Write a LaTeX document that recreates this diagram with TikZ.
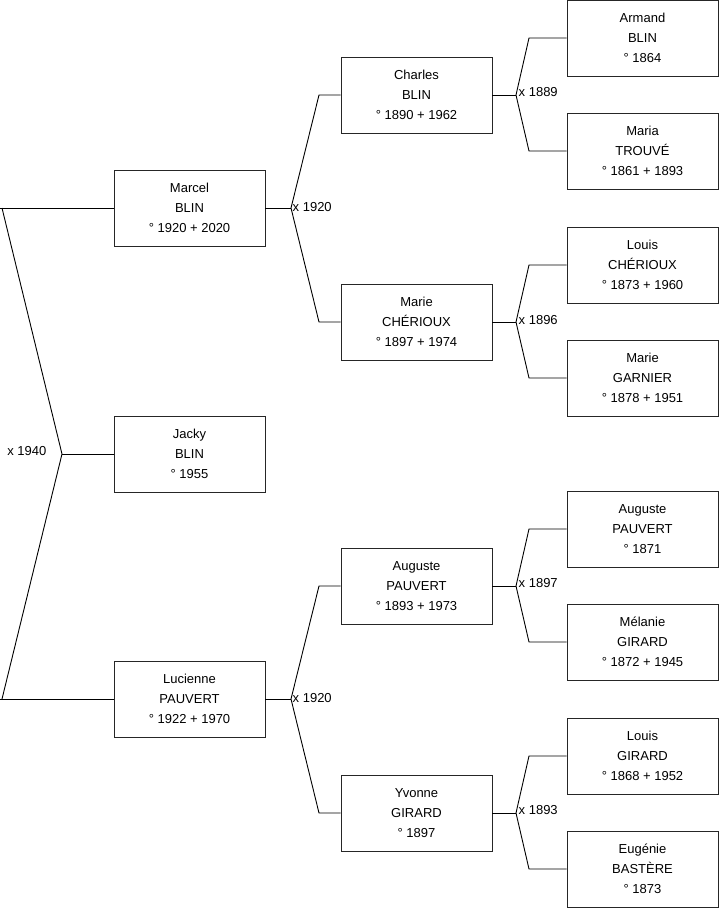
\documentclass[tikz,border=0pt]{standalone}
\usepackage{fontspec}
\setmainfont{Liberation Sans}
\begin{document}
\begin{tikzpicture}[x=1pt,y=-1pt,
  person/.style={draw=black!85,line width=0.9pt,rectangle,minimum width=151pt,minimum height=76pt,
    inner sep=0pt,align=center,font=\fontsize{13}{20}\selectfont},
  link/.style={draw=black,line width=0.9pt},
  marr/.style={font=\fontsize{13}{15}\selectfont,inner sep=1.5pt}]
\useasboundingbox (0,0) rectangle (719,908);
% column 1
\node[person] (marcel) at (189.5,208) {Marcel\\BLIN\\° 1920 + 2020};
\node[person] (jacky) at (189.5,454) {Jacky\\BLIN\\° 1955};
\node[person] (lucienne) at (189.5,699) {Lucienne\\PAUVERT\\° 1922 + 1970};
% column 2
\node[person] (charles) at (416.5,95) {Charles\\BLIN\\° 1890 + 1962};
\node[person] (marieC) at (416.5,322) {Marie\\CHÉRIOUX\\° 1897 + 1974};
\node[person] (augusteP) at (416.5,586) {Auguste\\PAUVERT\\° 1893 + 1973};
\node[person] (yvonne) at (416.5,813) {Yvonne\\GIRARD\\° 1897};
% column 3
\node[person] (armand) at (642.5,38) {Armand\\BLIN\\° 1864};
\node[person] (maria) at (642.5,151) {Maria\\TROUVÉ\\° 1861 + 1893};
\node[person] (louisC) at (642.5,265) {Louis\\CHÉRIOUX\\° 1873 + 1960};
\node[person] (marieG) at (642.5,378) {Marie\\GARNIER\\° 1878 + 1951};
\node[person] (augusteP2) at (642.5,529) {Auguste\\PAUVERT\\° 1871};
\node[person] (melanie) at (642.5,642) {Mélanie\\GIRARD\\° 1872 + 1945};
\node[person] (louisG) at (642.5,756) {Louis\\GIRARD\\° 1868 + 1952};
\node[person] (eugenie) at (642.5,869) {Eugénie\\BASTÈRE\\° 1873};

% fork for Jacky
\coordinate (j0) at (62,454);
\coordinate (j0a) at (2,208);
\coordinate (j0b) at (2,699);
\coordinate (j0s) at (0,208);
\coordinate (j0t) at (0,699);
\draw[link] (jacky.west) -- (j0);
\draw[link] (j0a) -- (j0) -- (j0b);
\draw[link] (j0s) -- (marcel.west);
\draw[link] (j0t) -- (lucienne.west);
\node[marr,anchor=east] (m0) at (48,451) {x 1940};

% forks column 1 -> 2
\coordinate (j1) at (291,208);
\coordinate (j1a) at (319,95);
\coordinate (j1b) at (319,322);
\draw[link] (marcel.east) -- (j1);
\draw[link] (charles.west) -- (j1a) -- (j1) -- (j1b) -- (marieC.west);
\node[marr,anchor=west] (m1) at (291,207) {x 1920};

\coordinate (j2) at (291,699);
\coordinate (j2a) at (319,586);
\coordinate (j2b) at (319,813);
\draw[link] (lucienne.east) -- (j2);
\draw[link] (augusteP.west) -- (j2a) -- (j2) -- (j2b) -- (yvonne.west);
\node[marr,anchor=west] (m2) at (291,698) {x 1920};

% forks column 2 -> 3
\coordinate (j3) at (516,95);
\coordinate (j3a) at (529,38);
\coordinate (j3b) at (529,151);
\draw[link] (charles.east) -- (j3);
\draw[link] (armand.west) -- (j3a) -- (j3) -- (j3b) -- (maria.west);
\node[marr,anchor=west] (m3) at (517,92) {x 1889};

\coordinate (j4) at (516,322);
\coordinate (j4a) at (529,265);
\coordinate (j4b) at (529,378);
\draw[link] (marieC.east) -- (j4);
\draw[link] (louisC.west) -- (j4a) -- (j4) -- (j4b) -- (marieG.west);
\node[marr,anchor=west] (m4) at (517,320) {x 1896};

\coordinate (j5) at (516,586);
\coordinate (j5a) at (529,529);
\coordinate (j5b) at (529,642);
\draw[link] (augusteP.east) -- (j5);
\draw[link] (augusteP2.west) -- (j5a) -- (j5) -- (j5b) -- (melanie.west);
\node[marr,anchor=west] (m5) at (517,583) {x 1897};

\coordinate (j6) at (516,813);
\coordinate (j6a) at (529,756);
\coordinate (j6b) at (529,869);
\draw[link] (yvonne.east) -- (j6);
\draw[link] (louisG.west) -- (j6a) -- (j6) -- (j6b) -- (eugenie.west);
\node[marr,anchor=west] (m6) at (517,810) {x 1893};
\end{tikzpicture}
\end{document}
